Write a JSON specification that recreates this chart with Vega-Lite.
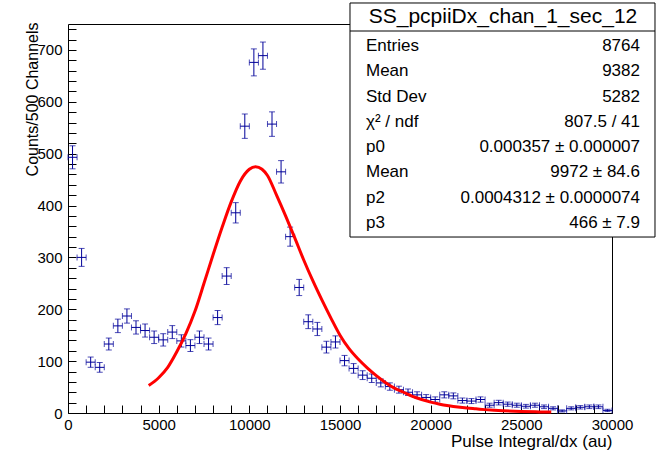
{
  "$schema": "https://vega.github.io/schema/vega-lite/v6.json",
  "autosize": {"type": "none"},
  "width": 544,
  "height": 389,
  "padding": {"left": 68, "top": 24, "right": 46, "bottom": 37},
  "background": "white",
  "config": {
    "view": {"stroke": "#000000", "strokeWidth": 1},
    "font": "Liberation Sans",
    "axisX": {
      "grid": false, "domain": false, "labelFlush": false, "labelOverlap": false,
      "offset": -8, "tickSize": 8, "tickColor": "#000000", "tickWidth": 1,
      "labelFont": "Liberation Sans", "labelFontSize": 15, "labelColor": "#000000", "labelPadding": 4,
      "titleFont": "Liberation Sans", "titleFontSize": 17, "titleFontWeight": "normal", "titleColor": "#000000",
      "titleAnchor": "end", "titleAlign": "right", "titleX": 544, "titleY": 41, "titleBaseline": "alphabetic"
    },
    "axisY": {
      "grid": false, "domain": false, "labelFlush": false, "labelOverlap": false,
      "offset": -8, "tickSize": 8, "tickColor": "#000000", "tickWidth": 1,
      "labelFont": "Liberation Sans", "labelFontSize": 15, "labelColor": "#000000", "labelPadding": 6,
      "titleFont": "Liberation Sans", "titleFontSize": 16, "titleFontWeight": "normal", "titleColor": "#000000",
      "titleAnchor": "end", "titleAngle": 270, "titleAlign": "right", "titleBaseline": "middle", "titleX": -44, "titleY": -2
    }
  },
  "datasets": {
    "hist": [
      {"x0":0,"x":250,"x1":500,"n":493,"lo":470.8,"hi":515.2},
      {"x0":500,"x":750,"x1":1000,"n":300,"lo":282.7,"hi":317.3},
      {"x0":1000,"x":1250,"x1":1500,"n":98,"lo":88.1,"hi":107.9},
      {"x0":1500,"x":1750,"x1":2000,"n":88,"lo":78.6,"hi":97.4},
      {"x0":2000,"x":2250,"x1":2500,"n":133,"lo":121.5,"hi":144.5},
      {"x0":2500,"x":2750,"x1":3000,"n":168,"lo":155.0,"hi":181.0},
      {"x0":3000,"x":3250,"x1":3500,"n":187,"lo":173.3,"hi":200.7},
      {"x0":3500,"x":3750,"x1":4000,"n":165,"lo":152.2,"hi":177.8},
      {"x0":4000,"x":4250,"x1":4500,"n":159,"lo":146.4,"hi":171.6},
      {"x0":4500,"x":4750,"x1":5000,"n":146,"lo":133.9,"hi":158.1},
      {"x0":5000,"x":5250,"x1":5500,"n":141,"lo":129.1,"hi":152.9},
      {"x0":5500,"x":5750,"x1":6000,"n":156,"lo":143.5,"hi":168.5},
      {"x0":6000,"x":6250,"x1":6500,"n":139,"lo":127.2,"hi":150.8},
      {"x0":6500,"x":6750,"x1":7000,"n":130,"lo":118.6,"hi":141.4},
      {"x0":7000,"x":7250,"x1":7500,"n":146,"lo":133.9,"hi":158.1},
      {"x0":7500,"x":7750,"x1":8000,"n":133,"lo":121.5,"hi":144.5},
      {"x0":8000,"x":8250,"x1":8500,"n":184,"lo":170.4,"hi":197.6},
      {"x0":8500,"x":8750,"x1":9000,"n":264,"lo":247.8,"hi":280.2},
      {"x0":9000,"x":9250,"x1":9500,"n":386,"lo":366.4,"hi":405.6},
      {"x0":9500,"x":9750,"x1":10000,"n":553,"lo":529.5,"hi":576.5},
      {"x0":10000,"x":10250,"x1":10500,"n":676,"lo":650.0,"hi":702.0},
      {"x0":10500,"x":10750,"x1":11000,"n":689,"lo":662.8,"hi":715.2},
      {"x0":11000,"x":11250,"x1":11500,"n":557,"lo":533.4,"hi":580.6},
      {"x0":11500,"x":11750,"x1":12000,"n":465,"lo":443.4,"hi":486.6},
      {"x0":12000,"x":12250,"x1":12500,"n":340,"lo":321.6,"hi":358.4},
      {"x0":12500,"x":12750,"x1":13000,"n":242,"lo":226.4,"hi":257.6},
      {"x0":13000,"x":13250,"x1":13500,"n":176,"lo":162.7,"hi":189.3},
      {"x0":13500,"x":13750,"x1":14000,"n":162,"lo":149.3,"hi":174.7},
      {"x0":14000,"x":14250,"x1":14500,"n":127,"lo":115.7,"hi":138.3},
      {"x0":14500,"x":14750,"x1":15000,"n":137,"lo":125.3,"hi":148.7},
      {"x0":15000,"x":15250,"x1":15500,"n":101,"lo":91.0,"hi":111.0},
      {"x0":15500,"x":15750,"x1":16000,"n":86,"lo":76.7,"hi":95.3},
      {"x0":16000,"x":16250,"x1":16500,"n":73,"lo":64.5,"hi":81.5},
      {"x0":16500,"x":16750,"x1":17000,"n":67,"lo":58.8,"hi":75.2},
      {"x0":17000,"x":17250,"x1":17500,"n":58,"lo":50.4,"hi":65.6},
      {"x0":17500,"x":17750,"x1":18000,"n":51,"lo":43.9,"hi":58.1},
      {"x0":18000,"x":18250,"x1":18500,"n":45,"lo":38.3,"hi":51.7},
      {"x0":18500,"x":18750,"x1":19000,"n":40,"lo":33.7,"hi":46.3},
      {"x0":19000,"x":19250,"x1":19500,"n":35,"lo":29.1,"hi":40.9},
      {"x0":19500,"x":19750,"x1":20000,"n":30,"lo":24.5,"hi":35.5},
      {"x0":20000,"x":20250,"x1":20500,"n":26,"lo":20.9,"hi":31.1},
      {"x0":20500,"x":20750,"x1":21000,"n":35,"lo":29.1,"hi":40.9},
      {"x0":21000,"x":21250,"x1":21500,"n":33,"lo":27.3,"hi":38.7},
      {"x0":21500,"x":21750,"x1":22000,"n":24,"lo":19.1,"hi":28.9},
      {"x0":22000,"x":22250,"x1":22500,"n":23,"lo":18.2,"hi":27.8},
      {"x0":22500,"x":22750,"x1":23000,"n":26,"lo":20.9,"hi":31.1},
      {"x0":23000,"x":23250,"x1":23500,"n":15,"lo":11.1,"hi":18.9},
      {"x0":23500,"x":23750,"x1":24000,"n":20,"lo":15.5,"hi":24.5},
      {"x0":24000,"x":24250,"x1":24500,"n":17,"lo":12.9,"hi":21.1},
      {"x0":24500,"x":24750,"x1":25000,"n":15,"lo":11.1,"hi":18.9},
      {"x0":25000,"x":25250,"x1":25500,"n":13,"lo":9.4,"hi":16.6},
      {"x0":25500,"x":25750,"x1":26000,"n":15,"lo":11.1,"hi":18.9},
      {"x0":26000,"x":26250,"x1":26500,"n":12,"lo":8.5,"hi":15.5},
      {"x0":26500,"x":26750,"x1":27000,"n":9,"lo":6.0,"hi":12.0},
      {"x0":27000,"x":27250,"x1":27500,"n":4,"lo":2.0,"hi":6.0},
      {"x0":27500,"x":27750,"x1":28000,"n":9,"lo":6.0,"hi":12.0},
      {"x0":28000,"x":28250,"x1":28500,"n":11,"lo":7.7,"hi":14.3},
      {"x0":28500,"x":28750,"x1":29000,"n":12,"lo":8.5,"hi":15.5},
      {"x0":29000,"x":29250,"x1":29500,"n":12,"lo":8.5,"hi":15.5},
      {"x0":29500,"x":29750,"x1":30000,"n":5,"lo":2.8,"hi":7.2}
    ],
    "fit": [
      {"x":4450,"y":53},{"x":5000,"y":68},{"x":5500,"y":88},{"x":6000,"y":118},
      {"x":6500,"y":153},{"x":7000,"y":196},{"x":7500,"y":250},{"x":8000,"y":305},
      {"x":8500,"y":358},{"x":9000,"y":407},{"x":9500,"y":447},{"x":10000,"y":470},
      {"x":10340,"y":475},{"x":10700,"y":470},{"x":11000,"y":458},{"x":11500,"y":420},
      {"x":12000,"y":380},{"x":12500,"y":338},{"x":13000,"y":295},{"x":13500,"y":255},
      {"x":14000,"y":218},{"x":14500,"y":183},{"x":15000,"y":150},{"x":15500,"y":124},
      {"x":16000,"y":104},{"x":16500,"y":87},{"x":17000,"y":72},{"x":17500,"y":59},
      {"x":18000,"y":48},{"x":18500,"y":40},{"x":19000,"y":32},{"x":19500,"y":26},
      {"x":20000,"y":21},{"x":20500,"y":17},{"x":21000,"y":14},{"x":21500,"y":11.5},
      {"x":22000,"y":9.5},{"x":22500,"y":8},{"x":23000,"y":6.5},{"x":23500,"y":5.3},
      {"x":24000,"y":4.4},{"x":25000,"y":3},{"x":26000,"y":2.1},{"x":26650,"y":1.7}
    ],
    "stats": [
      {"i":0,"k":"Entries","v":"8764"},
      {"i":1,"k":"Mean","v":"9382"},
      {"i":2,"k":"Std Dev","v":"5282"},
      {"i":3,"k":"χ² / ndf","v":"807.5 / 41"},
      {"i":4,"k":"p0","v":"0.000357 ± 0.000007"},
      {"i":5,"k":"Mean","v":"9972 ± 84.6"},
      {"i":6,"k":"p2","v":"0.0004312 ± 0.0000074"},
      {"i":7,"k":"p3","v":"466 ± 7.9"}
    ]
  },
  "layer": [
    {
      "data": {"name": "hist"},
      "mark": {"type": "rule", "color": "#000099", "strokeWidth": 1},
      "encoding": {
        "x": {"field": "x", "type": "quantitative", "scale": {"domain": [0, 30000], "nice": false, "zero": false},
          "axis": {"values": [0,1000,2000,3000,4000,5000,6000,7000,8000,9000,10000,11000,12000,13000,14000,15000,16000,17000,18000,19000,20000,21000,22000,23000,24000,25000,26000,27000,28000,29000,30000], "format": "d", "labelExpr": "datum.value % 5000 === 0 ? datum.label : ''", "labelOverlap": false, "labelFlush": false, "grid": false, "domain": false, "title": "Pulse Integral/dx (au)"}},
        "y": {"field": "lo", "type": "quantitative", "scale": {"domain": [0, 750], "nice": false, "zero": false},
          "axis": {"values": [0,20,40,60,80,100,120,140,160,180,200,220,240,260,280,300,320,340,360,380,400,420,440,460,480,500,520,540,560,580,600,620,640,660,680,700,720,740], "format": "d", "labelExpr": "datum.value % 100 === 0 ? datum.label : ''", "labelOverlap": false, "labelFlush": false, "grid": false, "domain": false, "title": "Counts/500 Channels"}},
        "y2": {"field": "hi"}
      }
    },
    {
      "data": {"name": "hist"},
      "mark": {"type": "rule", "color": "#000099", "strokeWidth": 1},
      "encoding": {
        "x": {"field": "x0", "type": "quantitative",
          "axis": {"values": [0,1000,2000,3000,4000,5000,6000,7000,8000,9000,10000,11000,12000,13000,14000,15000,16000,17000,18000,19000,20000,21000,22000,23000,24000,25000,26000,27000,28000,29000,30000], "format": "d", "labelExpr": "datum.value % 5000 === 0 ? datum.label : ''", "labelOverlap": false, "labelFlush": false, "grid": false, "domain": false, "title": "Pulse Integral/dx (au)"}},
        "x2": {"field": "x1"},
        "y": {"field": "n", "type": "quantitative",
          "axis": {"values": [0,20,40,60,80,100,120,140,160,180,200,220,240,260,280,300,320,340,360,380,400,420,440,460,480,500,520,540,560,580,600,620,640,660,680,700,720,740], "format": "d", "labelExpr": "datum.value % 100 === 0 ? datum.label : ''", "labelOverlap": false, "labelFlush": false, "grid": false, "domain": false, "title": "Counts/500 Channels"}}
      }
    },
    {
      "data": {"name": "hist"},
      "mark": {"type": "tick", "orient": "horizontal", "color": "#000099", "size": 6, "thickness": 1},
      "encoding": {
        "x": {"field": "x", "type": "quantitative",
          "axis": {"values": [0,1000,2000,3000,4000,5000,6000,7000,8000,9000,10000,11000,12000,13000,14000,15000,16000,17000,18000,19000,20000,21000,22000,23000,24000,25000,26000,27000,28000,29000,30000], "format": "d", "labelExpr": "datum.value % 5000 === 0 ? datum.label : ''", "labelOverlap": false, "labelFlush": false, "grid": false, "domain": false, "title": "Pulse Integral/dx (au)"}},
        "y": {"field": "lo", "type": "quantitative",
          "axis": {"values": [0,20,40,60,80,100,120,140,160,180,200,220,240,260,280,300,320,340,360,380,400,420,440,460,480,500,520,540,560,580,600,620,640,660,680,700,720,740], "format": "d", "labelExpr": "datum.value % 100 === 0 ? datum.label : ''", "labelOverlap": false, "labelFlush": false, "grid": false, "domain": false, "title": "Counts/500 Channels"}}
      }
    },
    {
      "data": {"name": "hist"},
      "mark": {"type": "tick", "orient": "horizontal", "color": "#000099", "size": 6, "thickness": 1},
      "encoding": {
        "x": {"field": "x", "type": "quantitative",
          "axis": {"values": [0,1000,2000,3000,4000,5000,6000,7000,8000,9000,10000,11000,12000,13000,14000,15000,16000,17000,18000,19000,20000,21000,22000,23000,24000,25000,26000,27000,28000,29000,30000], "format": "d", "labelExpr": "datum.value % 5000 === 0 ? datum.label : ''", "labelOverlap": false, "labelFlush": false, "grid": false, "domain": false, "title": "Pulse Integral/dx (au)"}},
        "y": {"field": "hi", "type": "quantitative",
          "axis": {"values": [0,20,40,60,80,100,120,140,160,180,200,220,240,260,280,300,320,340,360,380,400,420,440,460,480,500,520,540,560,580,600,620,640,660,680,700,720,740], "format": "d", "labelExpr": "datum.value % 100 === 0 ? datum.label : ''", "labelOverlap": false, "labelFlush": false, "grid": false, "domain": false, "title": "Counts/500 Channels"}}
      }
    },
    {
      "data": {"name": "hist"},
      "mark": {"type": "tick", "orient": "vertical", "color": "#000099", "size": 6, "thickness": 1},
      "encoding": {
        "x": {"field": "x0", "type": "quantitative",
          "axis": {"values": [0,1000,2000,3000,4000,5000,6000,7000,8000,9000,10000,11000,12000,13000,14000,15000,16000,17000,18000,19000,20000,21000,22000,23000,24000,25000,26000,27000,28000,29000,30000], "format": "d", "labelExpr": "datum.value % 5000 === 0 ? datum.label : ''", "labelOverlap": false, "labelFlush": false, "grid": false, "domain": false, "title": "Pulse Integral/dx (au)"}},
        "y": {"field": "n", "type": "quantitative",
          "axis": {"values": [0,20,40,60,80,100,120,140,160,180,200,220,240,260,280,300,320,340,360,380,400,420,440,460,480,500,520,540,560,580,600,620,640,660,680,700,720,740], "format": "d", "labelExpr": "datum.value % 100 === 0 ? datum.label : ''", "labelOverlap": false, "labelFlush": false, "grid": false, "domain": false, "title": "Counts/500 Channels"}}
      }
    },
    {
      "data": {"name": "hist"},
      "mark": {"type": "tick", "orient": "vertical", "color": "#000099", "size": 6, "thickness": 1},
      "encoding": {
        "x": {"field": "x1", "type": "quantitative",
          "axis": {"values": [0,1000,2000,3000,4000,5000,6000,7000,8000,9000,10000,11000,12000,13000,14000,15000,16000,17000,18000,19000,20000,21000,22000,23000,24000,25000,26000,27000,28000,29000,30000], "format": "d", "labelExpr": "datum.value % 5000 === 0 ? datum.label : ''", "labelOverlap": false, "labelFlush": false, "grid": false, "domain": false, "title": "Pulse Integral/dx (au)"}},
        "y": {"field": "n", "type": "quantitative",
          "axis": {"values": [0,20,40,60,80,100,120,140,160,180,200,220,240,260,280,300,320,340,360,380,400,420,440,460,480,500,520,540,560,580,600,620,640,660,680,700,720,740], "format": "d", "labelExpr": "datum.value % 100 === 0 ? datum.label : ''", "labelOverlap": false, "labelFlush": false, "grid": false, "domain": false, "title": "Counts/500 Channels"}}
      }
    },
    {
      "data": {"name": "fit"},
      "mark": {"type": "line", "color": "#ff0000", "strokeWidth": 3, "interpolate": "monotone"},
      "encoding": {
        "x": {"field": "x", "type": "quantitative",
          "axis": {"values": [0,1000,2000,3000,4000,5000,6000,7000,8000,9000,10000,11000,12000,13000,14000,15000,16000,17000,18000,19000,20000,21000,22000,23000,24000,25000,26000,27000,28000,29000,30000], "format": "d", "labelExpr": "datum.value % 5000 === 0 ? datum.label : ''", "labelOverlap": false, "labelFlush": false, "grid": false, "domain": false, "title": "Pulse Integral/dx (au)"}},
        "y": {"field": "y", "type": "quantitative",
          "axis": {"values": [0,20,40,60,80,100,120,140,160,180,200,220,240,260,280,300,320,340,360,380,400,420,440,460,480,500,520,540,560,580,600,620,640,660,680,700,720,740], "format": "d", "labelExpr": "datum.value % 100 === 0 ? datum.label : ''", "labelOverlap": false, "labelFlush": false, "grid": false, "domain": false, "title": "Counts/500 Channels"}}
      }
    },
    {
      "data": {"values": [{}]},
      "mark": {"type": "rect", "fill": "#ffffff", "stroke": "#000000", "strokeWidth": 1},
      "encoding": {
        "x": {"datum": 15551, "type": "quantitative",
          "axis": {"values": [0,1000,2000,3000,4000,5000,6000,7000,8000,9000,10000,11000,12000,13000,14000,15000,16000,17000,18000,19000,20000,21000,22000,23000,24000,25000,26000,27000,28000,29000,30000], "format": "d", "labelExpr": "datum.value % 5000 === 0 ? datum.label : ''", "labelOverlap": false, "labelFlush": false, "grid": false, "domain": false, "title": "Pulse Integral/dx (au)"}},
        "x2": {"datum": 32371},
        "y": {"datum": 790.5, "type": "quantitative",
          "axis": {"values": [0,20,40,60,80,100,120,140,160,180,200,220,240,260,280,300,320,340,360,380,400,420,440,460,480,500,520,540,560,580,600,620,640,660,680,700,720,740], "format": "d", "labelExpr": "datum.value % 100 === 0 ? datum.label : ''", "labelOverlap": false, "labelFlush": false, "grid": false, "domain": false, "title": "Counts/500 Channels"}},
        "y2": {"datum": 339.3}
      }
    },
    {
      "data": {"values": [{}]},
      "mark": {"type": "rule", "color": "#000000", "strokeWidth": 1},
      "encoding": {
        "x": {"datum": 15551, "type": "quantitative",
          "axis": {"values": [0,1000,2000,3000,4000,5000,6000,7000,8000,9000,10000,11000,12000,13000,14000,15000,16000,17000,18000,19000,20000,21000,22000,23000,24000,25000,26000,27000,28000,29000,30000], "format": "d", "labelExpr": "datum.value % 5000 === 0 ? datum.label : ''", "labelOverlap": false, "labelFlush": false, "grid": false, "domain": false, "title": "Pulse Integral/dx (au)"}},
        "x2": {"datum": 32371},
        "y": {"datum": 736.5, "type": "quantitative",
          "axis": {"values": [0,20,40,60,80,100,120,140,160,180,200,220,240,260,280,300,320,340,360,380,400,420,440,460,480,500,520,540,560,580,600,620,640,660,680,700,720,740], "format": "d", "labelExpr": "datum.value % 100 === 0 ? datum.label : ''", "labelOverlap": false, "labelFlush": false, "grid": false, "domain": false, "title": "Counts/500 Channels"}}
      }
    },
    {
      "data": {"values": [{}]},
      "mark": {"type": "text", "fontSize": 21, "align": "center", "baseline": "middle", "color": "#000000", "font": "Liberation Sans"},
      "encoding": {
        "x": {"datum": 23989, "type": "quantitative",
          "axis": {"values": [0,1000,2000,3000,4000,5000,6000,7000,8000,9000,10000,11000,12000,13000,14000,15000,16000,17000,18000,19000,20000,21000,22000,23000,24000,25000,26000,27000,28000,29000,30000], "format": "d", "labelExpr": "datum.value % 5000 === 0 ? datum.label : ''", "labelOverlap": false, "labelFlush": false, "grid": false, "domain": false, "title": "Pulse Integral/dx (au)"}},
        "y": {"datum": 763.5, "type": "quantitative",
          "axis": {"values": [0,20,40,60,80,100,120,140,160,180,200,220,240,260,280,300,320,340,360,380,400,420,440,460,480,500,520,540,560,580,600,620,640,660,680,700,720,740], "format": "d", "labelExpr": "datum.value % 100 === 0 ? datum.label : ''", "labelOverlap": false, "labelFlush": false, "grid": false, "domain": false, "title": "Counts/500 Channels"}},
        "text": {"value": "SS_pcpiiDx_chan_1_sec_12"}
      }
    },
    {
      "data": {"name": "stats"},
      "mark": {"type": "text", "fontSize": 17, "align": "left", "baseline": "middle", "color": "#000000", "font": "Liberation Sans"},
      "encoding": {
        "x": {"datum": 16434, "type": "quantitative",
          "axis": {"values": [0,1000,2000,3000,4000,5000,6000,7000,8000,9000,10000,11000,12000,13000,14000,15000,16000,17000,18000,19000,20000,21000,22000,23000,24000,25000,26000,27000,28000,29000,30000], "format": "d", "labelExpr": "datum.value % 5000 === 0 ? datum.label : ''", "labelOverlap": false, "labelFlush": false, "grid": false, "domain": false, "title": "Pulse Integral/dx (au)"}},
        "y": {"datum": 707.6, "type": "quantitative",
          "axis": {"values": [0,20,40,60,80,100,120,140,160,180,200,220,240,260,280,300,320,340,360,380,400,420,440,460,480,500,520,540,560,580,600,620,640,660,680,700,720,740], "format": "d", "labelExpr": "datum.value % 100 === 0 ? datum.label : ''", "labelOverlap": false, "labelFlush": false, "grid": false, "domain": false, "title": "Counts/500 Channels"}},
        "yOffset": {"field": "i", "type": "quantitative", "scale": {"domain": [0, 7], "range": [0, 177], "nice": false, "zero": false}},
        "text": {"field": "k"}
      }
    },
    {
      "data": {"name": "stats"},
      "mark": {"type": "text", "fontSize": 17, "align": "right", "baseline": "middle", "color": "#000000", "font": "Liberation Sans"},
      "encoding": {
        "x": {"datum": 31544, "type": "quantitative",
          "axis": {"values": [0,1000,2000,3000,4000,5000,6000,7000,8000,9000,10000,11000,12000,13000,14000,15000,16000,17000,18000,19000,20000,21000,22000,23000,24000,25000,26000,27000,28000,29000,30000], "format": "d", "labelExpr": "datum.value % 5000 === 0 ? datum.label : ''", "labelOverlap": false, "labelFlush": false, "grid": false, "domain": false, "title": "Pulse Integral/dx (au)"}},
        "y": {"datum": 707.6, "type": "quantitative",
          "axis": {"values": [0,20,40,60,80,100,120,140,160,180,200,220,240,260,280,300,320,340,360,380,400,420,440,460,480,500,520,540,560,580,600,620,640,660,680,700,720,740], "format": "d", "labelExpr": "datum.value % 100 === 0 ? datum.label : ''", "labelOverlap": false, "labelFlush": false, "grid": false, "domain": false, "title": "Counts/500 Channels"}},
        "yOffset": {"field": "i", "type": "quantitative", "scale": {"domain": [0, 7], "range": [0, 177], "nice": false, "zero": false}},
        "text": {"field": "v"}
      }
    }
  ]
}
